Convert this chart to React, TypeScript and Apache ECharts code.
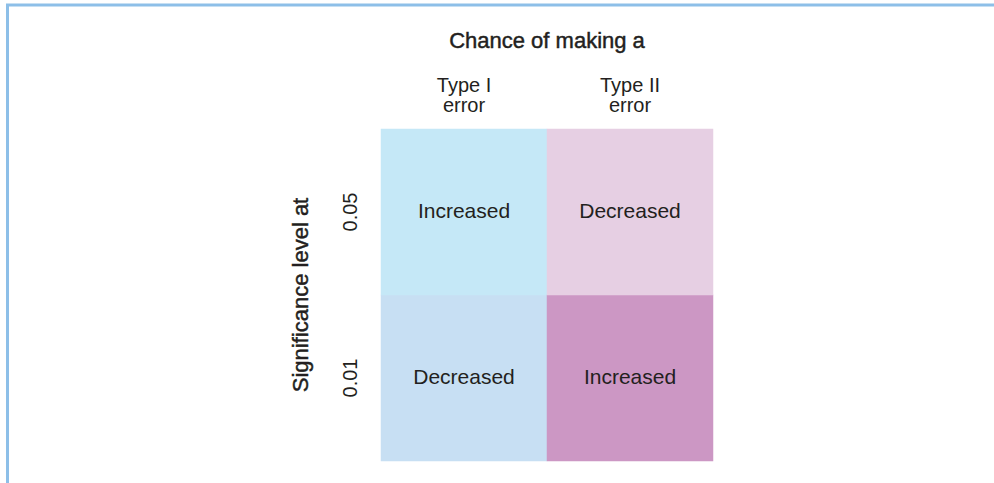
import React, { useEffect, useRef } from "react";
import * as echarts from "echarts";

// Columns: chance of making a ...
const errorTypes = ["Type I\nerror", "Type II\nerror"];
// Rows (bottom to top): significance level at ...
const significanceLevels = ["0.01", "0.05"];
// Effect on each error type, per significance level (same order as significanceLevels)
const typeIEffect = ["Decreased", "Increased"];
const typeIIEffect = ["Increased", "Decreased"];

const xTitle = "Chance of making a";
const yTitle = "Significance level at";

const FONT = "'Liberation Sans', Arial, Helvetica, sans-serif";
const TEXT = "#231f20";
// cell colors keyed by [column][row]
const CELL_COLORS = [
  ["#c7dff3", "#c5e8f7"],
  ["#cc97c4", "#e6cfe3"],
];

export default function App() {
  const ref = useRef<HTMLDivElement>(null);
  useEffect(() => {
    if (!ref.current) return;
    const chart = echarts.init(ref.current, undefined, { renderer: "svg" });
    const effects = [typeIEffect, typeIIEffect];
    const data: any[] = [];
    errorTypes.forEach((_, xi) => {
      significanceLevels.forEach((_, yi) => {
        data.push({
          value: [xi, yi, xi * 2 + yi],
          effect: effects[xi][yi],
          itemStyle: { color: CELL_COLORS[xi][yi] },
        });
      });
    });
    const titleStyle = {
      fontFamily: FONT,
      fontSize: 22,
      color: TEXT,
      textBorderColor: TEXT,
      textBorderWidth: 0.45,
    };
    chart.setOption({
      animation: false,
      grid: { left: 381, top: 129, width: 332, height: 332 },
      xAxis: {
        type: "category",
        data: errorTypes,
        position: "top",
        name: xTitle,
        nameLocation: "middle",
        nameGap: 78,
        nameTextStyle: titleStyle,
        axisLine: { show: false },
        axisTick: { show: false },
        splitLine: { show: false },
        axisLabel: {
          fontFamily: FONT,
          fontSize: 20,
          lineHeight: 20,
          color: TEXT,
          margin: 14,
        },
      },
      yAxis: {
        type: "category",
        data: significanceLevels,
        name: yTitle,
        nameLocation: "middle",
        nameRotate: 90,
        nameGap: 70,
        nameTextStyle: titleStyle,
        axisLine: { show: false },
        axisTick: { show: false },
        splitLine: { show: false },
        axisLabel: {
          fontFamily: FONT,
          fontSize: 20,
          color: TEXT,
          rotate: 90,
          margin: 21,
        },
      },
      visualMap: {
        show: false,
        type: "piecewise",
        dimension: 2,
        pieces: [
          { value: 0, color: CELL_COLORS[0][0] },
          { value: 1, color: CELL_COLORS[0][1] },
          { value: 2, color: CELL_COLORS[1][0] },
          { value: 3, color: CELL_COLORS[1][1] },
        ],
      },
      graphic: [
        {
          type: "line",
          shape: { x1: 6, y1: 5, x2: 994, y2: 5 },
          style: { stroke: "#8dbfe8", lineWidth: 3 },
        },
        {
          type: "line",
          shape: { x1: 7.5, y1: 4, x2: 7.5, y2: 483 },
          style: { stroke: "#8dbfe8", lineWidth: 3 },
        },
      ],
      series: [
        {
          type: "heatmap",
          data,
          label: {
            show: true,
            fontFamily: FONT,
            fontSize: 21,
            color: TEXT,
            offset: [0, -2],
            formatter: (p: any) => p.data.effect,
          },
          itemStyle: { borderWidth: 0 },
          emphasis: { disabled: true },
        },
      ],
    });
    return () => chart.dispose();
  }, []);
  return (
    <div
      ref={ref}
      style={{ position: "fixed", left: 0, top: 0, width: 994, height: 483, background: "#fff" }}
    />
  );
}
